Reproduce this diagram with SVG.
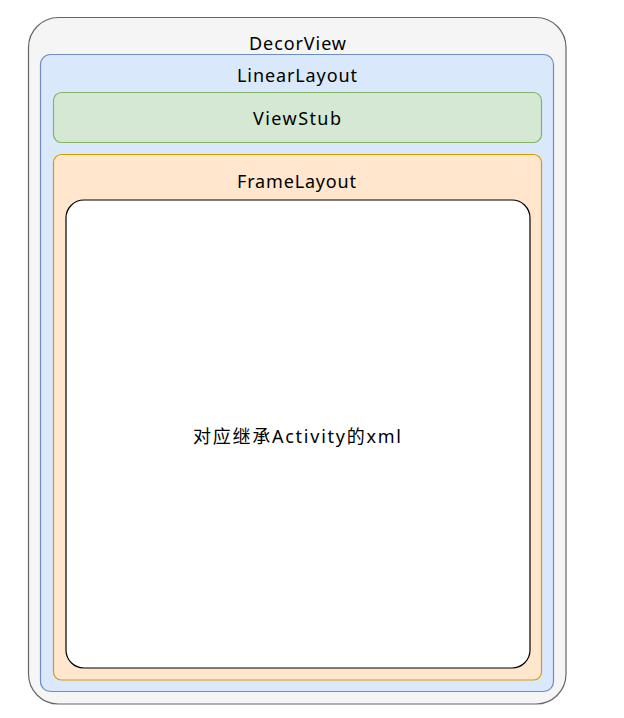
<svg xmlns="http://www.w3.org/2000/svg" width="624" height="718" viewBox="0 0 624 718">
<style>
  text { font-family: "Noto Sans", "Liberation Sans", "Noto Sans CJK SC", sans-serif; font-size: 18px; fill: #000; text-anchor: middle; dominant-baseline: central; }
</style>
<rect width="624" height="718" fill="#fff"/>
<g id="decorview">
  <rect x="28.5" y="17.5" width="537.5" height="686.5" rx="30" ry="30" fill="#f5f5f5" stroke="#666666" stroke-width="1.2"/>
  <text x="297.5" y="43" textLength="97">DecorView</text>
</g>
<g id="linearlayout">
  <rect x="40.5" y="54.5" width="513" height="637" rx="10" ry="10" fill="#dae8fc" stroke="#6c8ebf" stroke-width="1.2"/>
  <text x="297" y="75" textLength="120">LinearLayout</text>
</g>
<g id="viewstub">
  <rect x="53.5" y="92.5" width="488" height="50" rx="8" ry="8" fill="#d5e8d4" stroke="#82b366" stroke-width="1.2"/>
  <text x="297" y="118" textLength="88">ViewStub</text>
</g>
<g id="framelayout">
  <rect x="53.5" y="154.5" width="488" height="525.5" rx="8" ry="8" fill="#ffe6cc" stroke="#d79b00" stroke-width="1.2"/>
  <text x="296.5" y="181" textLength="119">FrameLayout</text>
</g>
<g id="activity-xml">
  <rect x="66" y="200" width="464" height="468" rx="18" ry="18" fill="#ffffff" stroke="#000000" stroke-width="1.2"/>
  <text x="297" y="436" textLength="208">对应继承Activity的xml</text>
</g>
<g id="connectors"></g>
</svg>
